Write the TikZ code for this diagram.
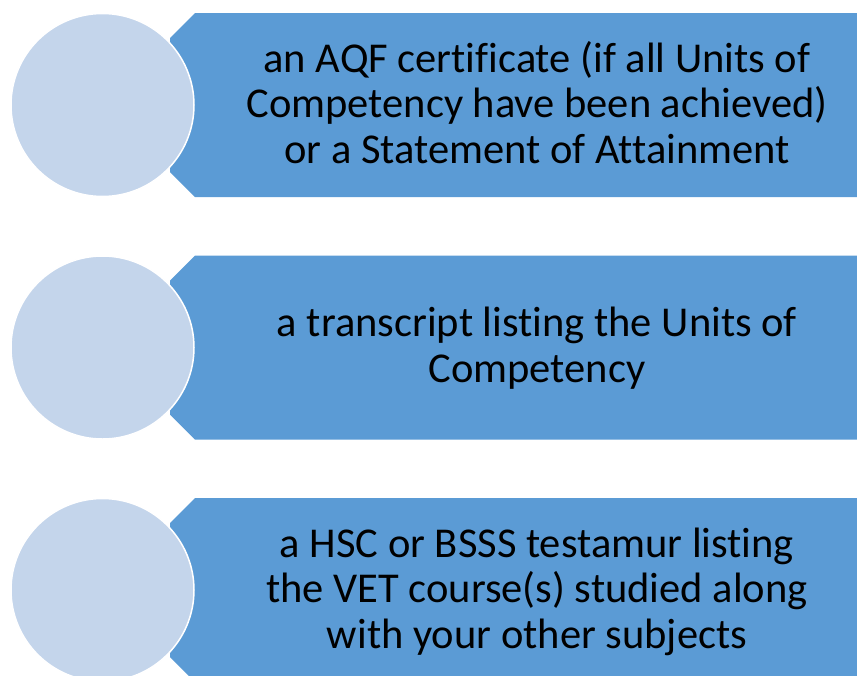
\documentclass[tikz,border=0pt]{standalone}
\usepackage{fontspec}
\setmainfont{Carlito}[Ligatures={NoCommon}]
\definecolor{barblue}{RGB}{91,155,213}
\definecolor{dotblue}{RGB}{196,213,235}

\begin{document}
\begin{tikzpicture}[x=1pt, y=-1pt,
    itemtext/.style={align=center, anchor=base, font=\fontsize{42.5}{45.5}\selectfont}]
    \useasboundingbox (0,0) rectangle (857,675);
    \clip (0,0) rectangle (857,675);
    \foreach \y in {13,255.5,498}{
      \fill[barblue] (195,\y) -- (880,\y) -- (880,\y+184) -- (195,\y+184) -- (170,\y+159) -- (170,\y+25) -- cycle;
      \draw[white, line width=1.5pt, fill=dotblue] (102.5,\y+92) circle (91.5pt);
    }
    % anchor=base sits on the last line
    \node[itemtext] (cert) at (537,163) {an AQF certificate (if all Units of\\Competency have been achieved)\\or a Statement of Attainment};
    \node[itemtext] (transcript) at (537,382) {a transcript listing the Units of\\Competency};
    \node[itemtext] (testamur) at (537,648) {a HSC or BSSS testamur listing\\the VET course(s) studied along\\with your other subjects};
  \end{tikzpicture}
\end{document}
